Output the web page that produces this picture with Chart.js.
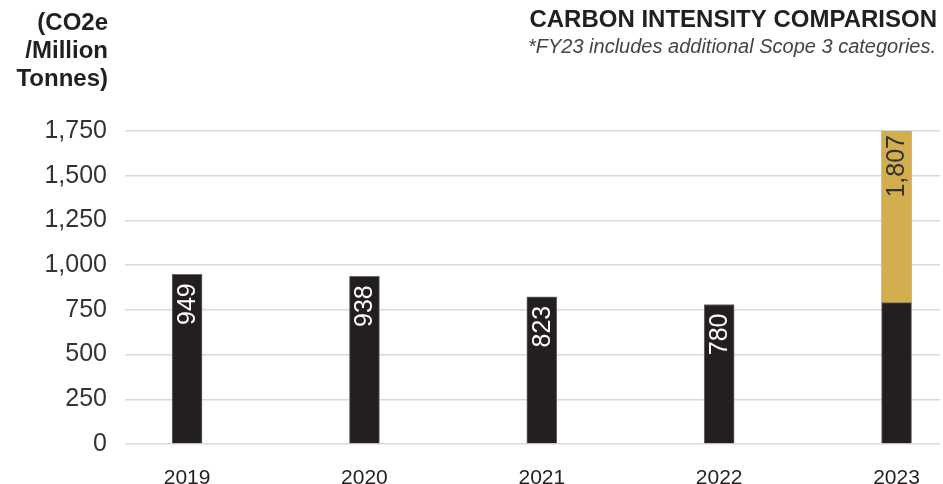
<!DOCTYPE html>
<html>
<head>
<meta charset="utf-8">
<script src="https://cdn.jsdelivr.net/npm/chart.js@4.4.1/dist/chart.umd.min.js"></script>
<style>
  html, body { margin: 0; padding: 0; background: #fff; }
  #wrap { width: 943px; height: 484px; }
</style>
</head>
<body>
<div id="wrap"><canvas id="c"></canvas></div>
<script>
const years = ['2019', '2020', '2021', '2022', '2023']
// base emissions intensity (black)
const baseValues = [949, 938, 823, 780, 790]
// additional Scope 3 categories in FY23 (gold)
const scope3Values = [null, null, null, null, 1017]
// printed totals on each bar
const barLabels = ['949', '938', '823', '780', '1,807']
const yTicks = [0, 250, 500, 750, 1000, 1250, 1500, 1750]
const yAxisTitle = ['(CO2e', '/Million', 'Tonnes)']
const title = 'CARBON INTENSITY COMPARISON'
const subtitle = '*FY23 includes additional Scope 3 categories.'

const FONT = '"Liberation Sans", Arial, sans-serif'

const textPlugin = {
  id: 'texts',
  afterDraw(chart) {
    const ctx = chart.ctx
    ctx.save()
    ctx.fillStyle = '#231f20'
    ctx.textAlign = 'right'
    ctx.textBaseline = 'alphabetic'
    ctx.font = `bold 24px ${FONT}`
    ctx.fillText(title, 937, 27)
    ctx.font = `italic 20px ${FONT}`
    ctx.fillStyle = '#444'
    ctx.fillText(subtitle, 936, 53)

    ctx.font = `bold 24px ${FONT}`
    ctx.fillStyle = '#231f20'
    yAxisTitle.forEach((line, i) => ctx.fillText(line, 108, 30 + i * 28))
    ctx.restore()
  }
}

const barLabelPlugin = {
  id: 'barLabels',
  afterDatasetsDraw(chart) {
    const ctx = chart.ctx
    const area = chart.chartArea
    const baseMeta = chart.getDatasetMeta(0)
    const topMeta = chart.getDatasetMeta(1)
    ctx.save()
    ctx.font = `25px ${FONT}`
    ctx.textBaseline = 'middle'
    ctx.textAlign = 'right'
    years.forEach((year, i) => {
      const onGold = scope3Values[i] != null
      const el = onGold ? topMeta.data[i] : baseMeta.data[i]
      const top = Math.max(el.y, area.top)
      const gap = onGold ? 4 : 9
      ctx.save()
      ctx.translate(el.x, top + gap)
      ctx.rotate(-Math.PI / 2)
      ctx.fillStyle = onGold ? '#333' : '#fff'
      ctx.fillText(barLabels[i], 0, 1)
      ctx.restore()
    })
    ctx.restore()
  }
}

new Chart(document.getElementById('c'), {
  type: 'bar',
  data: {
    datasets: [
      {
        data: baseValues.map((v, i) => ({ x: i, y: v })),
        backgroundColor: '#231f20',
        borderColor: '#6b6b6b',
        borderWidth: 1,
        barThickness: 30
      },
      {
        data: scope3Values.map((v, i) => ({ x: i, y: v })),
        backgroundColor: '#d2ae4e',
        borderWidth: 0,
        barThickness: 30
      }
    ]
  },
  options: {
    animation: false,
    responsive: true,
    maintainAspectRatio: false,
    layout: { padding: { top: 131, right: 3, left: 0, bottom: 0 } },
    scales: {
      x: {
        type: 'linear',
        stacked: true,
        offset: false,
        min: -0.35,
        max: 4.245,
        afterBuildTicks: scale => { scale.ticks = years.map((_, i) => ({ value: i })) },
        afterFit: scale => { scale.height = 40 },
        grid: { display: false, offset: false },
        border: { display: false },
        ticks: {
          padding: 14,
          color: '#231f20',
          font: { family: FONT, size: 21 },
          callback: v => years[v]
        }
      },
      y: {
        stacked: true,
        min: 0,
        max: 1750,
        afterBuildTicks: scale => { scale.ticks = yTicks.map(v => ({ value: v })) },
        afterFit: scale => { scale.width = 125 },
        grid: { color: '#d9d9d9', lineWidth: 1.5, drawTicks: false },
        border: { display: false },
        ticks: {
          padding: 18,
          color: '#333',
          font: { family: FONT, size: 25 },
          callback: v => v.toLocaleString('en-US')
        }
      }
    },
    plugins: {
      legend: { display: false },
      tooltip: { enabled: false }
    }
  },
  plugins: [textPlugin, barLabelPlugin]
})
</script>
</body>
</html>
